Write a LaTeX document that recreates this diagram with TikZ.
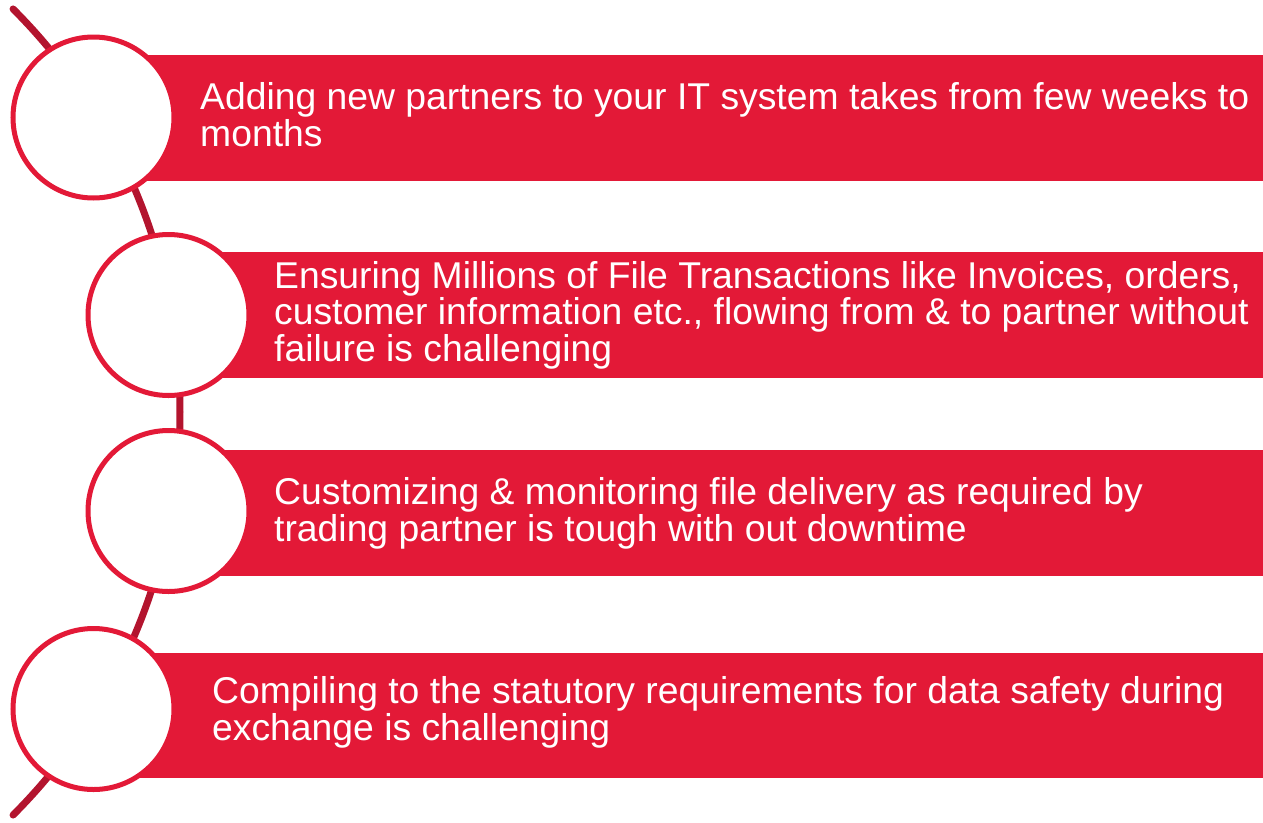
\documentclass[tikz,border=0pt]{standalone}
\usepackage{fontspec}
\setmainfont{Liberation Sans}
\definecolor{boxred}{HTML}{E31937}
\definecolor{linered}{HTML}{B3142E}
\tikzset{
  band/.style={fill=boxred, draw=none},
  ring/.style={circle, draw=boxred, line width=5pt, fill=white, minimum size=161pt, inner sep=0pt},
  spine/.style={draw=linered, line width=7pt, line cap=round},
  label/.style={text=white, align=left, anchor=base west, inner sep=0pt, font=\fontsize{37.3}{36.5}\selectfont}
}
\begin{document}
\begin{tikzpicture}[x=1pt,y=-1pt]
\useasboundingbox (0,0) rectangle (1263,822);
\coordinate (arcc) at (-390,412);
\draw[spine] (arcc) ++(-45:570) arc[start angle=-45,end angle=45,radius=570];
\fill[band] (93,55) rectangle (1263,181);
\fill[band] (168,252) rectangle (1263,378);
\fill[band] (168,450) rectangle (1263,576);
\fill[band] (93,653) rectangle (1263,778);
\node[ring] (c1) at (93.5,117.5) {};
\node[ring] (c2) at (168.5,315) {};
\node[ring] (c3) at (168.5,511) {};
\node[ring] (c4) at (93.5,709) {};
\node[label] (t1) at (200,146.3) {Adding new partners to your IT system takes from few weeks to\\months};
\node[label] (t2) at (274,361) {Ensuring Millions of File Transactions like Invoices, orders,\\customer information etc., flowing from \& to partner without\\failure is challenging};
\node[label] (t3) at (274,541) {Customizing \& monitoring file delivery as required by\\trading partner is tough with out downtime};
\node[label] (t4) at (212,740) {Compiling to the statutory requirements for data safety during\\exchange is challenging};
\end{tikzpicture}
\end{document}
